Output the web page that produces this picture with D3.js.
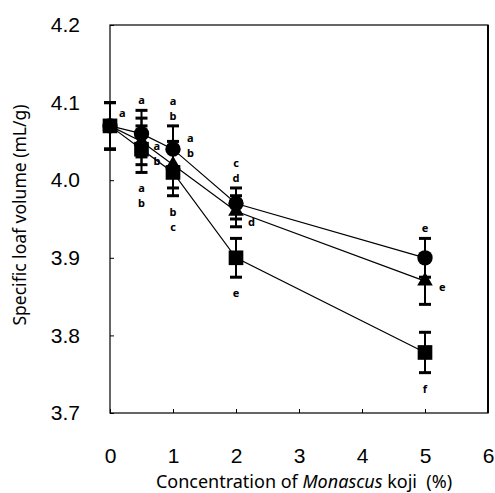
<!DOCTYPE html>
<html>
<head>
<meta charset="utf-8">
<script src="https://cdn.jsdelivr.net/npm/d3@7"></script>
<style>
body { margin: 0; background: #fff; }
svg { font-family: "Noto Sans", "Open Sans", sans-serif; }
</style>
</head>
<body>
<div id="chart"></div>
<script>
// concentration (%)
var conc = [0, 0.5, 1, 2, 5];

// specific loaf volume per series
var circleVals = [4.07, 4.06, 4.04, 3.97, 3.90];
var triangleVals = [4.07, 4.05, 4.02, 3.96, 3.87];
var squareVals = [4.07, 4.04, 4.01, 3.90, 3.778];

// error bar half widths
var circleErr = [0.03, 0.03, 0.03, 0.02, 0.025];
var triangleErr = [0.03, 0.03, 0.03, 0.02, 0.03];
var squareErr = [0.03, 0.03, 0.03, 0.025, 0.026];

// significance letters
var circleLetters = ["a", "a", "a b", "c d", "e"];
var triangleLetters = ["", "a b", "a b", "d", "e"];
var squareLetters = ["", "a b", "b c", "e", "f"];

var xTicks = [0, 1, 2, 3, 4, 5, 6];
var yTicks = [3.7, 3.8, 3.9, 4.0, 4.1, 4.2];

const width = 495;
const height = 493;
const marginLeft = 110;
const marginRight = 7;
const marginTop = 25;
const marginBottom = 80;

const x = d3.scaleLinear().domain([0, 6]).range([marginLeft, width - marginRight]);
const y = d3.scaleLinear().domain([3.7, 4.2]).range([height - marginBottom, marginTop]);

const svg = d3.select("#chart").append("svg")
    .attr("width", width)
    .attr("height", height)
    .attr("viewBox", [0, 0, width, height]);

// frame
svg.append("rect")
    .attr("x", x(0)).attr("y", y(4.2))
    .attr("width", x(6) - x(0)).attr("height", y(3.7) - y(4.2))
    .attr("fill", "none").attr("stroke", "#000").attr("stroke-width", 1.2);
svg.append("line")
    .attr("x1", x(6)).attr("x2", x(6)).attr("y1", y(4.2)).attr("y2", y(3.7))
    .attr("stroke", "#000").attr("stroke-width", 2);

// axes, ticks inside the frame
const gx = svg.append("g")
    .attr("transform", `translate(0,${y(3.7)})`)
    .call(d3.axisBottom(x).tickValues(xTicks).tickSize(-4).tickPadding(35).tickFormat(d3.format("d")));
gx.select(".domain").remove();
gx.selectAll("text").attr("font-size", 21).attr("fill", "#000");

const gy = svg.append("g")
    .attr("transform", `translate(${x(0)},0)`)
    .call(d3.axisLeft(y).tickValues(yTicks).tickSize(-4).tickPadding(30).tickFormat(d3.format(".1f")));
gy.select(".domain").remove();
gy.selectAll("text").attr("font-size", 21).attr("fill", "#000");

// axis titles
svg.append("text")
    .attr("transform", `translate(26,${(y(3.7) + y(4.2)) / 2 - 4}) rotate(-90)`)
    .attr("text-anchor", "middle")
    .attr("font-size", 17.5)
    .text("Specific loaf volume (mL/g)");

const xt = svg.append("text")
    .attr("x", 304).attr("y", 488)
    .attr("text-anchor", "middle")
    .attr("font-size", 18)
    .style("white-space", "pre");
xt.append("tspan").text("Concentration of ");
xt.append("tspan").attr("font-style", "italic").text("Monascus");
xt.append("tspan").text(" koji  (%)");

const line = d3.line().x((d, i) => x(conc[i])).y(d => y(d));

const series = [
    { vals: circleVals, err: circleErr, shape: d3.symbolCircle, size: 185 },
    { vals: triangleVals, err: triangleErr, shape: d3.symbolTriangle, size: 105 },
    { vals: squareVals, err: squareErr, shape: d3.symbolSquare, size: 215 }
];

series.forEach(s => {
    svg.append("path")
        .attr("d", line(s.vals))
        .attr("fill", "none").attr("stroke", "#000").attr("stroke-width", 1.2);
});

series.forEach(s => {
    const g = svg.append("g");
    s.vals.forEach((v, i) => {
        const cx = x(conc[i]);
        g.append("line")
            .attr("x1", cx).attr("x2", cx)
            .attr("y1", y(v - s.err[i])).attr("y2", y(v + s.err[i]))
            .attr("stroke", "#000").attr("stroke-width", 2);
        [v - s.err[i], v + s.err[i]].forEach(e => {
            g.append("line")
                .attr("x1", cx - 6).attr("x2", cx + 6)
                .attr("y1", y(e)).attr("y2", y(e))
                .attr("stroke", "#000").attr("stroke-width", 3);
        });
        g.append("path")
            .attr("transform", `translate(${cx},${y(v)})`)
            .attr("d", d3.symbol(s.shape, s.size)())
            .attr("fill", "#000");
    });
});

// letters, stacked one per line; yTop is the first baseline
function stackLetters(str, cx, yTop, anchor) {
    str.split(" ").forEach((l, k) => {
        svg.append("text")
            .attr("x", cx).attr("y", yTop + k * 15)
            .attr("text-anchor", anchor)
            .attr("font-size", 11)
            .attr("font-weight", "bold")
            .text(l);
    });
}

stackLetters("a", x(0) + 9, y(4.07) - 9, "start");
circleLetters.forEach((l, i) => {
    if (i === 0) return;
    const n = l.split(" ").length;
    stackLetters(l, x(conc[i]), y(circleVals[i] + circleErr[i]) - 6 - (n - 1) * 15, "middle");
});
// triangle letters sit to the right; vertical nudge per point
const triDx = [0, 12, 14, 12, 14];
const triDy = [0, 9, -23, 15, 10];
triangleLetters.forEach((l, i) => {
    if (!l) return;
    stackLetters(l, x(conc[i]) + triDx[i], y(triangleVals[i]) + triDy[i], "start");
});
squareLetters.forEach((l, i) => {
    if (!l) return;
    stackLetters(l, x(conc[i]), y(squareVals[i] - squareErr[i]) + 20, "middle");
});
</script>
</body>
</html>
